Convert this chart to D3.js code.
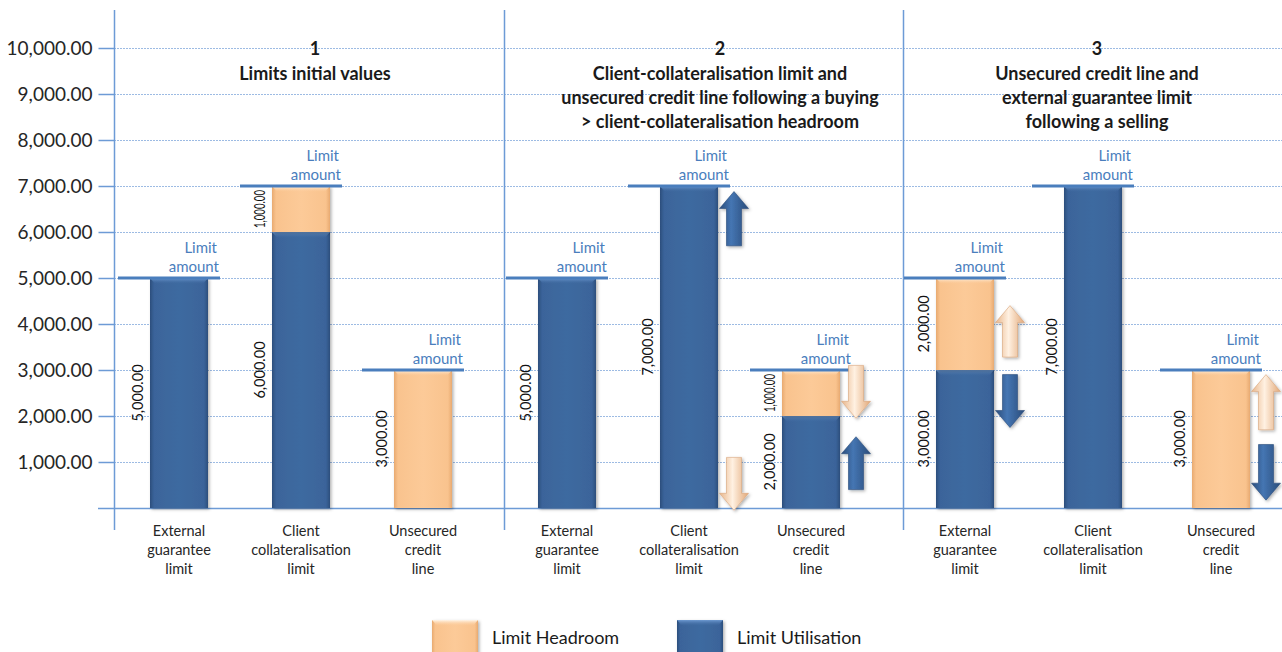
<!DOCTYPE html>
<html><head><meta charset="utf-8">
<script src="https://cdn.jsdelivr.net/npm/d3@7"></script>
<style>
body{margin:0;background:#fff}
svg{display:block}
text{font-family:Lato,"Liberation Sans",sans-serif}
</style>
</head><body>
<svg id="c" width="1282" height="652"></svg>
<script>
// ---------- data ----------
const categoryKeys = ["External guarantee limit","Client collateralisation limit","Unsecured credit line"];
const categoryLines = [["External","guarantee","limit"],["Client","collateralisation","limit"],["Unsecured","credit","line"]];
const panelNumbers = ["1","2","3"];
const panelTitles = [
  ["Limits initial values"],
  ["Client-collateralisation limit and","unsecured credit line following a buying","> client-collateralisation headroom"],
  ["Unsecured credit line and","external guarantee limit","following a selling"]
];
const utilisation = [[5000,6000,0],[5000,7000,2000],[3000,7000,0]];
const headroom    = [[0,1000,3000],[0,0,1000],[2000,0,3000]];
const yTicks = [1000,2000,3000,4000,5000,6000,7000,8000,9000,10000];
const seriesNames = ["Limit Headroom","Limit Utilisation"];
const limitLabel = ["Limit","amount"];
// change arrows: panel, category, series, direction, value range (tip -> tail)
const arrows = [
  {panel:1,cat:1,series:"u",dir:"up",  tip:6880,tail:5700},
  {panel:1,cat:1,series:"h",dir:"down",tip:-50, tail:1100},
  {panel:1,cat:2,series:"h",dir:"down",tip:1950,tail:3100},
  {panel:1,cat:2,series:"u",dir:"up",  tip:1550,tail:400},
  {panel:2,cat:0,series:"h",dir:"up",  tip:4400,tail:3280},
  {panel:2,cat:0,series:"u",dir:"down",tip:1750,tail:2900},
  {panel:2,cat:2,series:"h",dir:"up",  tip:2900,tail:1700},
  {panel:2,cat:2,series:"u",dir:"down",tip:170, tail:1380}
];

// ---------- layout ----------
const svg = d3.select("#c");
const W = 1282;
const y = d3.scaleLinear().domain([0,10000]).range([508,48]);
const panelEdges = [114,504,903];
const pointRanges = [[179,423],[567,811],[965,1221]];
const titleCenters = [315,720,1097];
const xs = pointRanges.map(r => d3.scalePoint().domain(categoryKeys).range(r));
const barW = 58;

const C = {line:"#6d9bd6", grid:"#9dbbe3", limit:"#4a7ebd", text:"#262626"};

const defs = svg.append("defs");
function hGrad(id, stops){
  const g = defs.append("linearGradient").attr("id",id).attr("x1","0").attr("x2","1").attr("y1","0").attr("y2","0");
  stops.forEach(s=>g.append("stop").attr("offset",s[0]).attr("stop-color",s[1]));
}
hGrad("gBlue",[["0%","#2b4e7c"],["7%","#3b649a"],["50%","#3e6aa0"],["93%","#3b649a"],["100%","#2b4e7c"]]);
hGrad("gPeach",[["0%","#e8aa70"],["7%","#f9c38e"],["50%","#fcca98"],["93%","#f9c38e"],["100%","#e8aa70"]]);
hGrad("gArrowBlue",[["0%","#2a4c7a"],["40%","#4576b3"],["100%","#2a4c7a"]]);
hGrad("gArrowPeach",[["0%","#e8b58a"],["45%","#fff1e2"],["100%","#e2a878"]]);
const vg = defs.append("linearGradient").attr("id","gTopB").attr("x1","0").attr("x2","0").attr("y1","0").attr("y2","1");
vg.append("stop").attr("offset","0%").attr("stop-color","#6e9ad2");
vg.append("stop").attr("offset","100%").attr("stop-color","#3f6aa0").attr("stop-opacity",0);
const vp = defs.append("linearGradient").attr("id","gTopP").attr("x1","0").attr("x2","0").attr("y1","0").attr("y2","1");
vp.append("stop").attr("offset","0%").attr("stop-color","#fff6ea");
vp.append("stop").attr("offset","100%").attr("stop-color","#fcca98").attr("stop-opacity",0);
const f = defs.append("filter").attr("id","sh").attr("x","-20%").attr("y","-10%").attr("width","150%").attr("height","130%");
f.append("feDropShadow").attr("dx",1.5).attr("dy",1.5).attr("stdDeviation",1.5).attr("flood-color","#000").attr("flood-opacity",0.3);

// ---------- grid ----------
svg.append("g").selectAll("line").data(yTicks).join("line")
  .attr("x1",114).attr("x2",W).attr("y1",d=>y(d)+0.5).attr("y2",d=>y(d)+0.5)
  .attr("stroke",C.grid).attr("stroke-width",1).attr("stroke-dasharray","2,1");

// y axis
const yAxis = d3.axisLeft(y).tickValues(yTicks).tickFormat(d3.format(",.2f")).tickSize(16).tickPadding(6);
const ga = svg.append("g").attr("transform","translate(114.5,0)").call(yAxis);
ga.select(".domain").remove();
ga.selectAll(".tick line").attr("stroke",C.line).attr("stroke-width",1.5);
ga.selectAll(".tick text").attr("fill",C.text).style("font-size","19px").style("font-family","Lato");

// vertical lines
svg.append("g").selectAll("line").data(panelEdges).join("line")
  .attr("x1",d=>d+0.5).attr("x2",d=>d+0.5).attr("y1",10).attr("y2",530)
  .attr("stroke",C.line).attr("stroke-width",1.5);
// baseline
svg.append("line").attr("x1",98).attr("x2",W).attr("y1",y(0)+0.5).attr("y2",y(0)+0.5)
  .attr("stroke",C.line).attr("stroke-width",1.5);

// ---------- panels ----------
panelTitles.forEach((lines,p)=>{
  const cx = titleCenters[p];
  const t = svg.append("text").attr("text-anchor","middle").attr("fill","#1a1a1a")
    .style("font-weight","bold").style("font-size","18px");
  t.append("tspan").attr("x",cx).attr("y",55).text(panelNumbers[p]);
  lines.forEach((l,i)=>t.append("tspan").attr("x",cx).attr("y",80+24*i).text(l));
});

const segs = [];
const limits = [];
for(let p=0;p<3;p++){
  categoryKeys.forEach((k,c)=>{
    const x0 = xs[p](k) - barW/2;
    const u = utilisation[p][c], h = headroom[p][c];
    if(u>0) segs.push({p,c,x0,lo:0,hi:u,s:"u"});
    if(h>0) segs.push({p,c,x0,lo:u,hi:u+h,s:"h"});
    limits.push({p,c,x0,v:u+h});
  });
}

const gb = svg.append("g");
segs.forEach(d=>{
  const yt = y(d.hi), yb = y(d.lo);
  const g = gb.append("g");
  g.append("rect").attr("x",d.x0).attr("y",yt).attr("width",barW).attr("height",yb-yt)
    .attr("fill",d.s==="u"?"url(#gBlue)":"url(#gPeach)").attr("filter","url(#sh)");
  g.append("path").attr("d",`M${d.x0},${yt}L${d.x0+barW},${yt}L${d.x0+barW-5},${yt+6}L${d.x0+5},${yt+6}Z`)
    .attr("fill",d.s==="u"?"url(#gTopB)":"url(#gTopP)");
  const len = yb-yt;
  const lbl = g.append("text").attr("transform",`translate(${d.x0-7},${(yt+yb)/2}) rotate(-90)`)
    .attr("text-anchor","middle").attr("fill","#111").style("font-size","14.5px")
    .text(d3.format(",.2f")(d.hi-d.lo));
  if(len<60){ lbl.attr("textLength",len-8).attr("lengthAdjust","spacingAndGlyphs"); }
});

// limit lines + labels
const gl = svg.append("g");
limits.forEach(d=>{
  const yy = y(d.v);
  const xa = d.x0-32, xb = d.x0+barW+12;
  gl.append("line").attr("x1",xa).attr("x2",xb).attr("y1",yy).attr("y2",yy)
    .attr("stroke",C.limit).attr("stroke-width",3);
  const t = gl.append("text").attr("text-anchor","end").attr("fill",C.limit).style("font-size","15px");
  t.append("tspan").attr("x",xb-3).attr("y",yy-25).text(limitLabel[0]);
  t.append("tspan").attr("x",xb-1).attr("y",yy-6).text(limitLabel[1]);
});

// arrows
const gA = svg.append("g");
arrows.forEach(a=>{
  const cx = xs[a.panel](categoryKeys[a.cat]) + barW/2 + 16;
  const yt = y(a.tip), yl = y(a.tail);
  const hw = 14.5, sw = 7.5, hl = 17;
  const s = a.dir==="up" ? 1 : -1;
  const yh = yt + s*hl;
  const d = `M${cx},${yt}L${cx+hw},${yh}L${cx+sw},${yh}L${cx+sw},${yl}L${cx-sw},${yl}L${cx-sw},${yh}L${cx-hw},${yh}Z`;
  gA.append("path").attr("d",d).attr("fill",a.series==="u"?"url(#gArrowBlue)":"url(#gArrowPeach)")
    .attr("stroke",a.series==="u"?"#2a4c7a":"#d9a57a").attr("stroke-width",0.6).attr("filter","url(#sh)");
});

// category labels
for(let p=0;p<3;p++){
  categoryKeys.forEach((k,c)=>{
    const t = svg.append("text").attr("text-anchor","middle").attr("fill",C.text).style("font-size","14.5px");
    categoryLines[c].forEach((l,i)=>t.append("tspan").attr("x",xs[p](k)).attr("y",536+19*i).text(l));
  });
}

// legend
const leg = [{name:seriesNames[0],fill:"url(#gPeach)",top:"url(#gTopP)",x:432},{name:seriesNames[1],fill:"url(#gBlue)",top:"url(#gTopB)",x:677}];
leg.forEach(l=>{
  svg.append("rect").attr("x",l.x).attr("y",620).attr("width",46).attr("height",40).attr("fill",l.fill).attr("filter","url(#sh)");
  svg.append("path").attr("d",`M${l.x},620L${l.x+46},620L${l.x+41},626L${l.x+5},626Z`).attr("fill",l.top);
  svg.append("text").attr("x",l.x+60).attr("y",644).attr("fill","#1a1a1a").style("font-size","18px").text(l.name);
});
</script>
</body></html>
